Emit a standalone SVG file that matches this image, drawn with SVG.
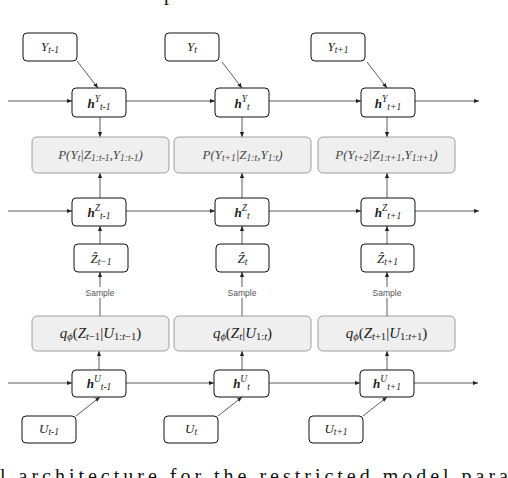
<svg xmlns="http://www.w3.org/2000/svg" width="508" height="478" viewBox="0 0 508 478">
<defs>
<marker id="ah" viewBox="0 0 6 6" refX="6" refY="3" markerWidth="5" markerHeight="5" orient="auto" markerUnits="userSpaceOnUse">
<path d="M0,0.5 L6,3 L0,5.5 Z" fill="#222"/>
</marker>
<style>
.nb{fill:#fff;stroke:#111;stroke-width:1}
.gb{fill:#efefef;stroke:#888;stroke-width:0.8}
.t{font-family:"Liberation Serif","DejaVu Serif",serif;font-style:italic;font-size:13px;fill:#222;text-anchor:middle}
.h{font-weight:bold}
.s{font-size:9.5px}
.p{font-family:"Liberation Serif","DejaVu Serif",serif;font-style:italic;font-size:13px;fill:#444;text-anchor:middle}
.ps{font-size:9.5px}
.q{font-family:"Liberation Serif","DejaVu Serif",serif;font-size:15px;fill:#222;text-anchor:middle}
.qs{font-size:10.5px}
.smp{font-family:"Liberation Sans",Arial,sans-serif;font-size:8.5px;fill:#555;text-anchor:middle}
.c{stroke:#333;stroke-width:0.8;fill:none;marker-end:url(#ah)}
.cap{font-family:"Liberation Serif","Times New Roman",serif;font-size:20px;fill:#111}
</style>
</defs>

<text class="cap" x="164" y="-0.5">p</text>

<g id="connectors">
<line class="c" x1="8" y1="101" x2="72" y2="101"/>
<line class="c" x1="126" y1="101" x2="215" y2="101"/>
<line class="c" x1="269" y1="101" x2="361" y2="101"/>
<line class="c" x1="415" y1="101" x2="479" y2="101"/>
<line class="c" x1="8" y1="211" x2="72" y2="211"/>
<line class="c" x1="126" y1="211" x2="215" y2="211"/>
<line class="c" x1="269" y1="211" x2="361" y2="211"/>
<line class="c" x1="415" y1="211" x2="479" y2="211"/>
<line class="c" x1="8" y1="383" x2="72" y2="383"/>
<line class="c" x1="126" y1="383" x2="214" y2="383"/>
<line class="c" x1="269" y1="383" x2="360" y2="383"/>
<line class="c" x1="414" y1="383" x2="478" y2="383"/>
<line class="c" x1="77" y1="61" x2="98" y2="88"/>
<line class="c" x1="222" y1="62" x2="242" y2="88"/>
<line class="c" x1="367" y1="62" x2="387" y2="88"/>
<line class="c" x1="100" y1="117" x2="100" y2="137"/>
<line class="c" x1="242" y1="117" x2="242" y2="137"/>
<line class="c" x1="387" y1="117" x2="387" y2="137"/>
<line class="c" x1="100" y1="198" x2="100" y2="173"/>
<line class="c" x1="242" y1="198" x2="242" y2="173"/>
<line class="c" x1="387" y1="198" x2="387" y2="173"/>
<line class="c" x1="100" y1="244" x2="100" y2="226"/>
<line class="c" x1="242" y1="244" x2="242" y2="226"/>
<line class="c" x1="387" y1="244" x2="387" y2="226"/>
<line class="c" x1="100" y1="316" x2="100" y2="272"/>
<line class="c" x1="242" y1="316" x2="242" y2="272"/>
<line class="c" x1="387" y1="316" x2="387" y2="272"/>
<line class="c" x1="99" y1="370" x2="99" y2="351"/>
<line class="c" x1="242" y1="370" x2="242" y2="351"/>
<line class="c" x1="387" y1="370" x2="387" y2="351"/>
<line class="c" x1="76" y1="416" x2="100" y2="397"/>
<line class="c" x1="218" y1="416" x2="242" y2="397"/>
<line class="c" x1="363" y1="416" x2="387" y2="397"/>
<rect x="84" y="287" width="32" height="11" fill="#fff"/>
<rect x="226" y="287" width="32" height="11" fill="#fff"/>
<rect x="371" y="287" width="32" height="11" fill="#fff"/>
<text class="smp" x="100" y="296">Sample</text>
<text class="smp" x="242" y="296">Sample</text>
<text class="smp" x="387" y="296">Sample</text>
</g>

<g id="Y1"><rect class="nb" x="23" y="33" width="54" height="28" rx="4"/><text class="t" x="50" y="51">Y<tspan class="s" dy="2">t-1</tspan></text></g>
<g id="Y2"><rect class="nb" x="165" y="33" width="54" height="28" rx="4"/><text class="t" x="192" y="51">Y<tspan class="s" dy="2">t</tspan></text></g>
<g id="Y3"><rect class="nb" x="311" y="33" width="54" height="28" rx="4"/><text class="t" x="338" y="51">Y<tspan class="s" dy="2">t+1</tspan></text></g>

<g id="hY1"><rect class="nb" x="72" y="88" width="54" height="29" rx="4"/><text class="t" x="99" y="108"><tspan class="h">h</tspan><tspan class="s" dy="-6">Y</tspan><tspan class="s" dy="8">t-1</tspan></text></g>
<g id="hY2"><rect class="nb" x="215" y="88" width="54" height="29" rx="4"/><text class="t" x="242" y="108"><tspan class="h">h</tspan><tspan class="s" dy="-6">Y</tspan><tspan class="s" dy="8">t</tspan></text></g>
<g id="hY3"><rect class="nb" x="361" y="88" width="54" height="29" rx="4"/><text class="t" x="388" y="108"><tspan class="h">h</tspan><tspan class="s" dy="-6">Y</tspan><tspan class="s" dy="8">t+1</tspan></text></g>

<g id="P1"><rect class="gb" x="32" y="137" width="137" height="36" rx="5"/><text class="p" x="100.5" y="159">P(Y<tspan class="ps" dy="2">t</tspan><tspan dy="-2">|Z</tspan><tspan class="ps" dy="2">1:t-1</tspan><tspan dy="-2">,Y</tspan><tspan class="ps" dy="2">1:t-1</tspan><tspan dy="-2">)</tspan></text></g>
<g id="P2"><rect class="gb" x="174" y="137" width="137" height="36" rx="5"/><text class="p" x="242.5" y="159">P(Y<tspan class="ps" dy="2">t+1</tspan><tspan dy="-2">|Z</tspan><tspan class="ps" dy="2">1:t</tspan><tspan dy="-2">,Y</tspan><tspan class="ps" dy="2">1:t</tspan><tspan dy="-2">)</tspan></text></g>
<g id="P3"><rect class="gb" x="318" y="137" width="137" height="36" rx="5"/><text class="p" x="386.5" y="159">P(Y<tspan class="ps" dy="2">t+2</tspan><tspan dy="-2">|Z</tspan><tspan class="ps" dy="2">1:t+1</tspan><tspan dy="-2">,Y</tspan><tspan class="ps" dy="2">1:t+1</tspan><tspan dy="-2">)</tspan></text></g>

<g id="hZ1"><rect class="nb" x="72" y="198" width="54" height="28" rx="4"/><text class="t" x="99" y="217"><tspan class="h">h</tspan><tspan class="s" dy="-6">Z</tspan><tspan class="s" dy="8">t-1</tspan></text></g>
<g id="hZ2"><rect class="nb" x="215" y="198" width="54" height="28" rx="4"/><text class="t" x="242" y="217"><tspan class="h">h</tspan><tspan class="s" dy="-6">Z</tspan><tspan class="s" dy="8">t</tspan></text></g>
<g id="hZ3"><rect class="nb" x="361" y="198" width="54" height="28" rx="4"/><text class="t" x="388" y="217"><tspan class="h">h</tspan><tspan class="s" dy="-6">Z</tspan><tspan class="s" dy="8">t+1</tspan></text></g>

<g id="Zh1"><rect class="nb" x="74" y="244" width="54" height="28" rx="4"/><text class="t" x="101" y="263" font-size="14">Ẑ<tspan class="s" dy="2">t−1</tspan></text></g>
<g id="Zh2"><rect class="nb" x="216" y="244" width="53" height="28" rx="4"/><text class="t" x="242.5" y="263" font-size="14">Ẑ<tspan class="s" dy="2">t</tspan></text></g>
<g id="Zh3"><rect class="nb" x="361" y="244" width="53" height="28" rx="4"/><text class="t" x="387.5" y="263" font-size="14">Ẑ<tspan class="s" dy="2">t+1</tspan></text></g>

<g id="q1"><rect class="gb" x="32" y="316" width="137" height="35" rx="5"/><text class="q" x="100.5" y="338"><tspan font-style="italic">q</tspan><tspan class="qs" dy="2" font-style="italic">ϕ</tspan><tspan dy="-2">(</tspan><tspan font-style="italic">Z</tspan><tspan class="qs" dy="2"><tspan font-style="italic">t</tspan>−1</tspan><tspan dy="-2">|</tspan><tspan font-style="italic">U</tspan><tspan class="qs" dy="2">1:<tspan font-style="italic">t</tspan>−1</tspan><tspan dy="-2">)</tspan></text></g>
<g id="q2"><rect class="gb" x="174" y="316" width="137" height="35" rx="5"/><text class="q" x="242.5" y="338"><tspan font-style="italic">q</tspan><tspan class="qs" dy="2" font-style="italic">ϕ</tspan><tspan dy="-2">(</tspan><tspan font-style="italic">Z</tspan><tspan class="qs" dy="2" font-style="italic">t</tspan><tspan dy="-2">|</tspan><tspan font-style="italic">U</tspan><tspan class="qs" dy="2">1:<tspan font-style="italic">t</tspan></tspan><tspan dy="-2">)</tspan></text></g>
<g id="q3"><rect class="gb" x="318" y="316" width="137" height="35" rx="5"/><text class="q" x="386.5" y="338"><tspan font-style="italic">q</tspan><tspan class="qs" dy="2" font-style="italic">ϕ</tspan><tspan dy="-2">(</tspan><tspan font-style="italic">Z</tspan><tspan class="qs" dy="2"><tspan font-style="italic">t</tspan>+1</tspan><tspan dy="-2">|</tspan><tspan font-style="italic">U</tspan><tspan class="qs" dy="2">1:<tspan font-style="italic">t</tspan>+1</tspan><tspan dy="-2">)</tspan></text></g>

<g id="hU1"><rect class="nb" x="72" y="370" width="54" height="27" rx="4"/><text class="t" x="99" y="388"><tspan class="h">h</tspan><tspan class="s" dy="-6">U</tspan><tspan class="s" dy="8">t-1</tspan></text></g>
<g id="hU2"><rect class="nb" x="214" y="370" width="55" height="27" rx="4"/><text class="t" x="241.5" y="388"><tspan class="h">h</tspan><tspan class="s" dy="-6">U</tspan><tspan class="s" dy="8">t</tspan></text></g>
<g id="hU3"><rect class="nb" x="360" y="370" width="54" height="27" rx="4"/><text class="t" x="387" y="388"><tspan class="h">h</tspan><tspan class="s" dy="-6">U</tspan><tspan class="s" dy="8">t+1</tspan></text></g>

<g id="U1"><rect class="nb" x="22" y="416" width="54" height="27" rx="4"/><text class="t" x="49" y="433">U<tspan class="s" dy="2">t-1</tspan></text></g>
<g id="U2"><rect class="nb" x="164" y="416" width="54" height="27" rx="4"/><text class="t" x="191" y="433">U<tspan class="s" dy="2">t</tspan></text></g>
<g id="U3"><rect class="nb" x="309" y="416" width="54" height="27" rx="4"/><text class="t" x="336" y="433">U<tspan class="s" dy="2">t+1</tspan></text></g>

<text class="cap" x="0" y="483" textLength="508" lengthAdjust="spacing">l architecture for the restricted model para</text>
</svg>
